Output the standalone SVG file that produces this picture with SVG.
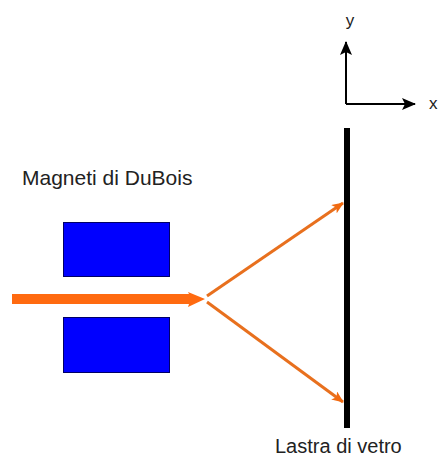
<svg xmlns="http://www.w3.org/2000/svg" width="440" height="459" viewBox="0 0 440 459">
<defs>
<style>
.lbl{font-family:"Liberation Sans",Arial,sans-serif;fill:#222}
.mag{fill:#0000FF;stroke:#000066;stroke-width:1}
.ray{stroke:#E8701E;stroke-width:3;fill:none}
.ax{stroke:#000;stroke-width:2;fill:none}
</style>
<marker id="oa" viewBox="0 0 12 10" refX="11" refY="5" markerWidth="12" markerHeight="10" markerUnits="userSpaceOnUse" orient="auto">
<path d="M0,0 L12,5 L0,10 L3,5 Z" fill="#F26A10"/>
</marker>
<marker id="ba" viewBox="0 0 14 12" refX="13" refY="6" markerWidth="14" markerHeight="12" markerUnits="userSpaceOnUse" orient="auto">
<path d="M0,0 L14,6 L0,12 L3,6 Z" fill="#000"/>
</marker>
</defs>
<rect width="440" height="459" fill="#fff"/>
<g id="axes">
<path class="ax" d="M346,104 L346,42" marker-end="url(#ba)"/>
<path class="ax" d="M346,104 L415,104" marker-end="url(#ba)"/>
<text class="lbl" x="350" y="26" font-size="17" text-anchor="middle">y</text>
<text class="lbl" x="429" y="109" font-size="17">x</text>
</g>
<g id="plate">
<rect x="344" y="128" width="6" height="300" fill="#000"/>
<text class="lbl" x="275" y="453" font-size="20">Lastra di vetro</text>
</g>
<g id="magnets">
<text class="lbl" x="22" y="185" font-size="21">Magneti di DuBois</text>
<rect class="mag" x="63.5" y="222.5" width="106" height="54"/>
<rect class="mag" x="63.5" y="317.5" width="106" height="55"/>
</g>
<g id="beam">
<polygon points="12,294 189,294 188,292 205,299 188,307 189,304 12,304" fill="#FF6A10"/>
</g>
<g id="connectors">
<path class="ray" d="M207,296 L343,203" marker-end="url(#oa)"/>
<path class="ray" d="M207,302 L343,402" marker-end="url(#oa)"/>
</g>
</svg>
